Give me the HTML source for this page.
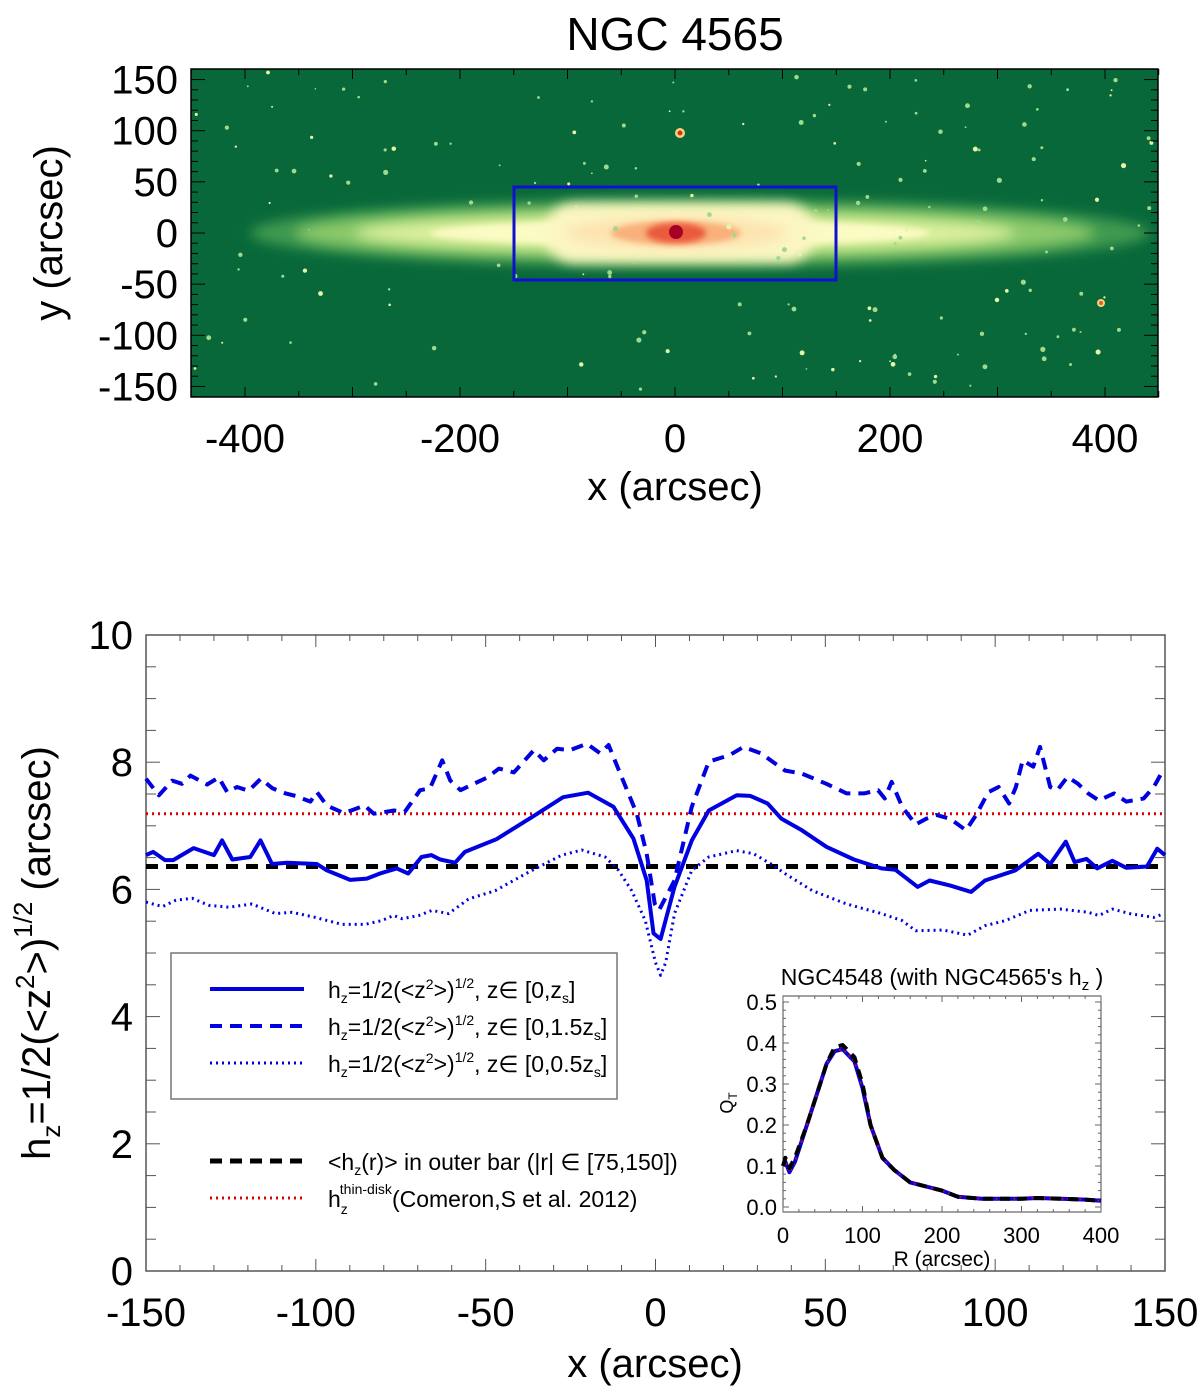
<!DOCTYPE html>
<html><head><meta charset="utf-8"><style>
body{margin:0;background:#fff}
svg{display:block;font-family:"Liberation Sans",sans-serif}
</style></head><body>
<svg id="fig" width="1200" height="1389" viewBox="0 0 1200 1389" xmlns="http://www.w3.org/2000/svg">
<defs>
<filter id="b6" x="-20%" y="-100%" width="140%" height="300%"><feGaussianBlur stdDeviation="6"/></filter>
<filter id="b3" x="-20%" y="-100%" width="140%" height="300%"><feGaussianBlur stdDeviation="3"/></filter>
<clipPath id="topclip"><rect x="191" y="69" width="967" height="328"/></clipPath>
</defs>
<text x="675" y="50" font-size="46" text-anchor="middle">NGC 4565</text>
<g id="top">
<rect x="191" y="69" width="967" height="328" fill="#08683a"/>
<g clip-path="url(#topclip)">
<ellipse cx="700" cy="233" rx="450" ry="34" fill="#3f9a4f" filter="url(#b6)"/>
<ellipse cx="695" cy="233" rx="400" ry="26" fill="#8cc96a" filter="url(#b6)"/>
<ellipse cx="685" cy="233" rx="330" ry="19" fill="#d9ef9b" filter="url(#b6)"/>
<ellipse cx="680" cy="233" rx="250" ry="13" fill="#fbfbc4" filter="url(#b3)"/>
<rect x="545" y="203" width="270" height="60" rx="30" fill="#fbf6c2" filter="url(#b6)"/>
<ellipse cx="676" cy="233" rx="110" ry="16" fill="#fde3b0" filter="url(#b6)"/>
<ellipse cx="676" cy="233" rx="65" ry="12" fill="#f9b07a" filter="url(#b3)"/>
<ellipse cx="676" cy="233" rx="30" ry="10" fill="#ea5a3c" filter="url(#b3)"/>
<circle cx="676" cy="232" r="7" fill="#a50026"/>
<g id="stars"></g>
<circle cx="680" cy="133" r="5" fill="#f6d57a"/><circle cx="680" cy="133" r="2.5" fill="#d7301f"/>
<circle cx="1101" cy="303" r="4" fill="#f6d57a"/><circle cx="1101" cy="303" r="2" fill="#e06030"/>
</g>
<rect x="514" y="187" width="322" height="93" fill="none" stroke="#1010d0" stroke-width="3"/>
<rect x="191" y="69" width="967" height="328" fill="none" stroke="#000" stroke-width="1.5"/>
<g id="topticks"></g>
<text transform="translate(62,233) rotate(-90)" font-size="40" text-anchor="middle">y (arcsec)</text>
<text x="675" y="500" font-size="40" text-anchor="middle">x (arcsec)</text>
</g>

<g id="main">
<rect x="146" y="635" width="1019" height="636" fill="none" stroke="#555" stroke-width="1.5"/>
<g id="mainticks"></g>
<g id="mainlines"></g>
<text transform="translate(50,953) rotate(-90)" font-size="40" text-anchor="middle">h<tspan font-size="26" dy="10">z</tspan><tspan dy="-10">=1/2(&lt;z</tspan><tspan font-size="26" dy="-16">2</tspan><tspan dy="16">&gt;)</tspan><tspan font-size="26" dy="-18">1/2</tspan><tspan dy="18"> (arcsec)</tspan></text>
<text x="655" y="1377" font-size="40" text-anchor="middle">x (arcsec)</text>

<g>
<rect x="171" y="953" width="446" height="146" fill="#fff" stroke="#777" stroke-width="1.5"/>
<g font-size="23">
<g><line x1="210" y1="989" x2="304" y2="989" stroke="#0000e0" stroke-width="4"/>
<text x="328" y="998">h<tspan font-size="14" dy="5">z</tspan><tspan dy="-5">=1/2(&lt;z</tspan><tspan font-size="14" dy="-9">2</tspan><tspan dy="9">&gt;)</tspan><tspan font-size="14" dy="-10">1/2</tspan><tspan dy="10">, z∈ [0,z</tspan><tspan font-size="14" dy="5">s</tspan><tspan dy="-5">]</tspan></text></g>
<g><line x1="210" y1="1026" x2="304" y2="1026" stroke="#0000e0" stroke-width="4" stroke-dasharray="12,8"/>
<text x="328" y="1035">h<tspan font-size="14" dy="5">z</tspan><tspan dy="-5">=1/2(&lt;z</tspan><tspan font-size="14" dy="-9">2</tspan><tspan dy="9">&gt;)</tspan><tspan font-size="14" dy="-10">1/2</tspan><tspan dy="10">, z∈ [0,1.5z</tspan><tspan font-size="14" dy="5">s</tspan><tspan dy="-5">]</tspan></text></g>
<g><line x1="210" y1="1063" x2="302" y2="1063" stroke="#0000e0" stroke-width="3" stroke-dasharray="2,4"/>
<text x="328" y="1072">h<tspan font-size="14" dy="5">z</tspan><tspan dy="-5">=1/2(&lt;z</tspan><tspan font-size="14" dy="-9">2</tspan><tspan dy="9">&gt;)</tspan><tspan font-size="14" dy="-10">1/2</tspan><tspan dy="10">, z∈ [0,0.5z</tspan><tspan font-size="14" dy="5">s</tspan><tspan dy="-5">]</tspan></text></g>
<g><line x1="210" y1="1161" x2="304" y2="1161" stroke="#000" stroke-width="5" stroke-dasharray="12,8"/>
<text x="328" y="1170">&lt;h<tspan font-size="14" dy="5">z</tspan><tspan dy="-5">(r)&gt; in outer bar (|r| ∈ [75,150])</tspan></text></g>
<g><line x1="210" y1="1198" x2="302" y2="1198" stroke="#e00000" stroke-width="3" stroke-dasharray="2,4"/>
<text x="328" y="1207">h<tspan font-size="14" dy="7">z</tspan><tspan font-size="14" dx="-8" dy="-20">thin-disk</tspan><tspan dy="13">(Comeron,S et al. 2012)</tspan></text></g>
</g>
</g>

<g id="inset">
<text x="942" y="985" font-size="23" text-anchor="middle">NGC4548 (with NGC4565's h<tspan font-size="15" dy="5">z</tspan><tspan dy="-5"> )</tspan></text>
<rect x="783" y="996" width="318" height="216" fill="#fff" stroke="#444" stroke-width="1"/>
<g id="insetticks"></g>
<g id="insetlines"></g>
<text transform="translate(733,1103) rotate(-90)" font-size="18" text-anchor="middle">Q<tspan font-size="12" dy="4">T</tspan></text>
<text x="942" y="1266" font-size="21" text-anchor="middle">R (arcsec)</text>
</g>
</g>
</svg>
<script>
// ---- main chart data ----
const solidX=[-150,-147.9,-144.4,-142,-136,-130,-127.6,-124.6,-119.3,-116.3,-112.9,-108.5,-99.7,-96.8,-89.9,-85,-81.1,-76.2,-72.8,-68.9,-66,-63.4,-59,-56.1,-46.8,-36,-27.2,-19.8,-12.4,-6.5,-2.6,-0.6,1.5,5.6,10.7,15.7,23.9,27.9,33,37.1,43.1,50.3,58.4,66.5,70.6,77.2,80.7,86.8,92.9,97,106,112.7,116.2,120.8,123.4,126.9,130,134.5,138.6,144.7,147.7,150];
const solidY=[6.54,6.59,6.46,6.46,6.65,6.54,6.77,6.47,6.51,6.77,6.40,6.42,6.40,6.30,6.15,6.17,6.25,6.33,6.25,6.51,6.54,6.47,6.42,6.59,6.79,7.15,7.45,7.52,7.30,6.80,6.14,5.31,5.22,6.04,6.77,7.24,7.48,7.47,7.35,7.11,6.93,6.67,6.47,6.33,6.31,6.04,6.14,6.06,5.96,6.14,6.30,6.56,6.40,6.75,6.43,6.48,6.33,6.45,6.34,6.36,6.64,6.54];
const dashX=[-150,-146.2,-142.3,-139.4,-136.9,-132,-128.6,-126.1,-123.2,-119.8,-116.2,-112.8,-108.9,-106,-101.6,-99.7,-96.8,-91.8,-88.1,-85.7,-82.9,-77,-73.8,-69.3,-66.4,-62.8,-60.4,-57.4,-53.5,-49.5,-46.1,-41.7,-35.8,-32.9,-29,-25.1,-20.2,-16.3,-13.8,-10.4,-5.5,-2.6,-0.2,1,5.6,10.7,15.7,21.8,25.9,31,38.1,43.1,50.3,56.3,61.4,65.5,67.5,69.5,72.6,76.6,79.7,82.7,86.8,91.4,94.4,98,101,104.1,106.1,108.1,111.2,113.2,116.2,118.3,121.3,124.4,127.4,130.5,135,138.6,143.7,146.7,149.7];
const dashY=[7.74,7.48,7.71,7.66,7.79,7.65,7.76,7.53,7.61,7.55,7.74,7.59,7.51,7.47,7.38,7.53,7.32,7.20,7.27,7.32,7.19,7.24,7.22,7.56,7.59,8.03,7.71,7.56,7.66,7.76,7.90,7.84,8.19,8.03,8.21,8.19,8.29,8.14,8.27,7.82,7.19,6.56,5.77,5.67,6.14,7.30,8.01,8.11,8.24,8.14,7.87,7.82,7.66,7.51,7.51,7.56,7.43,7.69,7.30,7.02,7.11,7.17,7.11,6.93,7.17,7.53,7.61,7.35,7.61,8.03,7.93,8.24,7.61,7.56,7.77,7.66,7.51,7.40,7.51,7.38,7.43,7.61,7.90];
const dotX=[-150,-145.1,-141.2,-136.4,-131.5,-125.6,-118.8,-111.9,-107,-100.2,-92.3,-85.5,-80.6,-77.1,-74.6,-69.7,-65.8,-60.9,-55,-47.2,-37.4,-27.6,-21.7,-14.8,-10.9,-7,-3,0,1.5,3,5.6,10.7,15.7,23.9,28.9,34,38.1,46.2,56.3,66.5,72.6,76.6,84.8,91.9,97,103,110.2,119.3,127.4,130.5,134.5,139.6,146.7,149.7];
const dotY=[5.80,5.73,5.83,5.86,5.75,5.72,5.77,5.62,5.64,5.56,5.45,5.45,5.51,5.59,5.54,5.59,5.67,5.62,5.85,5.98,6.27,6.54,6.62,6.51,6.30,5.98,5.51,4.85,4.65,4.85,5.62,6.30,6.51,6.61,6.56,6.40,6.25,5.98,5.77,5.62,5.51,5.35,5.36,5.28,5.43,5.51,5.67,5.69,5.64,5.59,5.69,5.62,5.56,5.62];
const meanHz=[6.36];
const thinDisk=[7.19];
const xTickLabels=[-150,-100,-50,0,50,100,150];
const yTickLabels=[0,2,4,6,8,10];
// ---- inset data ----
const qtR=[0,3,8,15,30,45,55,65,75,90,100,110,125,140,160,180,200,220,250,300,320,350,380,400];
const qtSolid=[0.10,0.11,0.085,0.11,0.2,0.29,0.35,0.38,0.385,0.355,0.29,0.2,0.12,0.09,0.06,0.05,0.04,0.025,0.02,0.02,0.022,0.02,0.018,0.015];
const qtDash=[0.10,0.12,0.095,0.12,0.2,0.29,0.35,0.39,0.395,0.365,0.3,0.2,0.12,0.09,0.06,0.05,0.04,0.025,0.02,0.02,0.022,0.02,0.018,0.015];
const qtXTicks=[0,100,200,300,400];
const qtYTicks=[0.0,0.1,0.2,0.3,0.4,0.5];
// ---- top image axes ----
const imgXTicks=[-400,-200,0,200,400];
const imgYTicks=[150,100,50,0,-50,-100,-150];

const NS='http://www.w3.org/2000/svg';
function mk(parent,tag,attrs){const e=document.createElementNS(NS,tag);for(const k in attrs)e.setAttribute(k,attrs[k]);parent.appendChild(e);return e;}
const mx=v=>146+(v+150)*1019/300;
const my=v=>1271-v*63.6;
const ix=v=>783+v*318/400;
const iy=v=>1207-v*410;
const tx=v=>675+v*1.075;
const ty=v=>233-v*1.023;

// top ticks
const tt=document.getElementById('topticks');
for(let v=-450;v<=450;v+=50){const x=tx(v);const L=(v%100===0)?10:6;
 mk(tt,'line',{x1:x,y1:397,x2:x,y2:397-L,stroke:'#000','stroke-width':1});
 mk(tt,'line',{x1:x,y1:69,x2:x,y2:69+L,stroke:'#000','stroke-width':1});}
for(let v=-160;v<=160;v+=10){const y=ty(v);const L=(v%50===0)?14:7;
 mk(tt,'line',{x1:191,y1:y,x2:191+L,y2:y,stroke:'#000','stroke-width':1});
 mk(tt,'line',{x1:1158,y1:y,x2:1158-L,y2:y,stroke:'#000','stroke-width':1});}
imgXTicks.forEach(v=>{const t=mk(tt,'text',{x:tx(v),y:452,'font-size':40,'text-anchor':'middle'});t.textContent=v;
 
 });
imgYTicks.forEach(v=>{const t=mk(tt,'text',{x:178,y:ty(v)+14,'font-size':40,'text-anchor':'end'});t.textContent=v;
 
 });

// stars (decorative)
const st=document.getElementById('stars');let seed=7;const rnd=()=>{seed=(seed*16807)%2147483647;return seed/2147483647;};
for(let i=0;i<170;i++){const x=195+rnd()*960,y=72+rnd()*322;const r=0.8+rnd()*1.8;
 mk(st,'circle',{cx:x,cy:y,r:r,fill:rnd()<0.3?'#e8f5a8':'#9fd98a'});}

// main ticks
const mt=document.getElementById('mainticks');
for(let v=-150;v<=150;v+=10){const x=mx(v);const L=(v%50===0)?12:6;
 mk(mt,'line',{x1:x,y1:1271,x2:x,y2:1271-L,stroke:'#555','stroke-width':1});
 mk(mt,'line',{x1:x,y1:635,x2:x,y2:635+L,stroke:'#555','stroke-width':1});}
for(let v=0;v<=10;v+=0.5){const y=my(v);const L=(Math.abs(v%2)<1e-6)?14:10;
 mk(mt,'line',{x1:146,y1:y,x2:146+L,y2:y,stroke:'#555','stroke-width':1});
 mk(mt,'line',{x1:1165,y1:y,x2:1165-L,y2:y,stroke:'#555','stroke-width':1});}
xTickLabels.forEach(v=>{const t=mk(mt,'text',{x:mx(v),y:1326,'font-size':40,'text-anchor':'middle'});t.textContent=v;
 
 });
yTickLabels.forEach(v=>{const t=mk(mt,'text',{x:133,y:my(v)+14,'font-size':40,'text-anchor':'end'});t.textContent=v;
 
 });

// main lines
const ml=document.getElementById('mainlines');
function poly(g,xs,ys,fx,fy,attrs){const pts=xs.map((x,i)=>fx(x).toFixed(1)+','+fy(ys[i]).toFixed(1)).join(' ');
 return mk(g,'polyline',Object.assign({points:pts,fill:'none','stroke-linejoin':'round'},attrs));}
const rl=mk(ml,'line',{x1:mx(-150),x2:mx(150),y1:my(thinDisk[0]),y2:my(thinDisk[0]),stroke:'#e00000','stroke-width':3,'stroke-dasharray':'2,4'});


const bl=mk(ml,'line',{x1:mx(-150),x2:mx(148),y1:my(meanHz[0]),y2:my(meanHz[0]),stroke:'#000','stroke-width':5,'stroke-dasharray':'12,8'});


const p1=poly(ml,dashX,dashY,mx,my,{stroke:'#0000e0','stroke-width':4,'stroke-dasharray':'12,8'});


const p2=poly(ml,solidX,solidY,mx,my,{stroke:'#0000e0','stroke-width':4});


const p3=poly(ml,dotX,dotY,mx,my,{stroke:'#0000e0','stroke-width':3,'stroke-dasharray':'2,4'});



// inset
const it=document.getElementById('insetticks');
for(let v=0;v<=400;v+=20){const x=ix(v);const L=(v%100===0)?6:3;
 mk(it,'line',{x1:x,y1:1212,x2:x,y2:1212-L,stroke:'#666','stroke-width':1});
 mk(it,'line',{x1:x,y1:996,x2:x,y2:996+L,stroke:'#666','stroke-width':1});}
for(let k=0;k<=25;k++){const v=k*0.02;const y=iy(v);const L=(k%5===0)?6:3;
 mk(it,'line',{x1:783,y1:y,x2:783+L,y2:y,stroke:'#666','stroke-width':1});
 mk(it,'line',{x1:1101,y1:y,x2:1101-L,y2:y,stroke:'#666','stroke-width':1});}
qtXTicks.forEach(v=>{const t=mk(it,'text',{x:ix(v),y:1243,'font-size':22,'text-anchor':'middle'});t.textContent=v;
 
 });
qtYTicks.forEach(v=>{const t=mk(it,'text',{x:777,y:iy(v)+8,'font-size':22,'text-anchor':'end'});t.textContent=v.toFixed(1);
 
 });
const il=document.getElementById('insetlines');
const q1=poly(il,qtR,qtSolid,ix,iy,{stroke:'#0000e0','stroke-width':4});


const q2=poly(il,qtR,qtSolid,ix,iy,{stroke:'#e00000','stroke-width':2,'stroke-dasharray':'2,4'});


const q3=poly(il,qtR,qtDash,ix,iy,{stroke:'#000','stroke-width':4,'stroke-dasharray':'10,7'});


</script>
</body></html>
